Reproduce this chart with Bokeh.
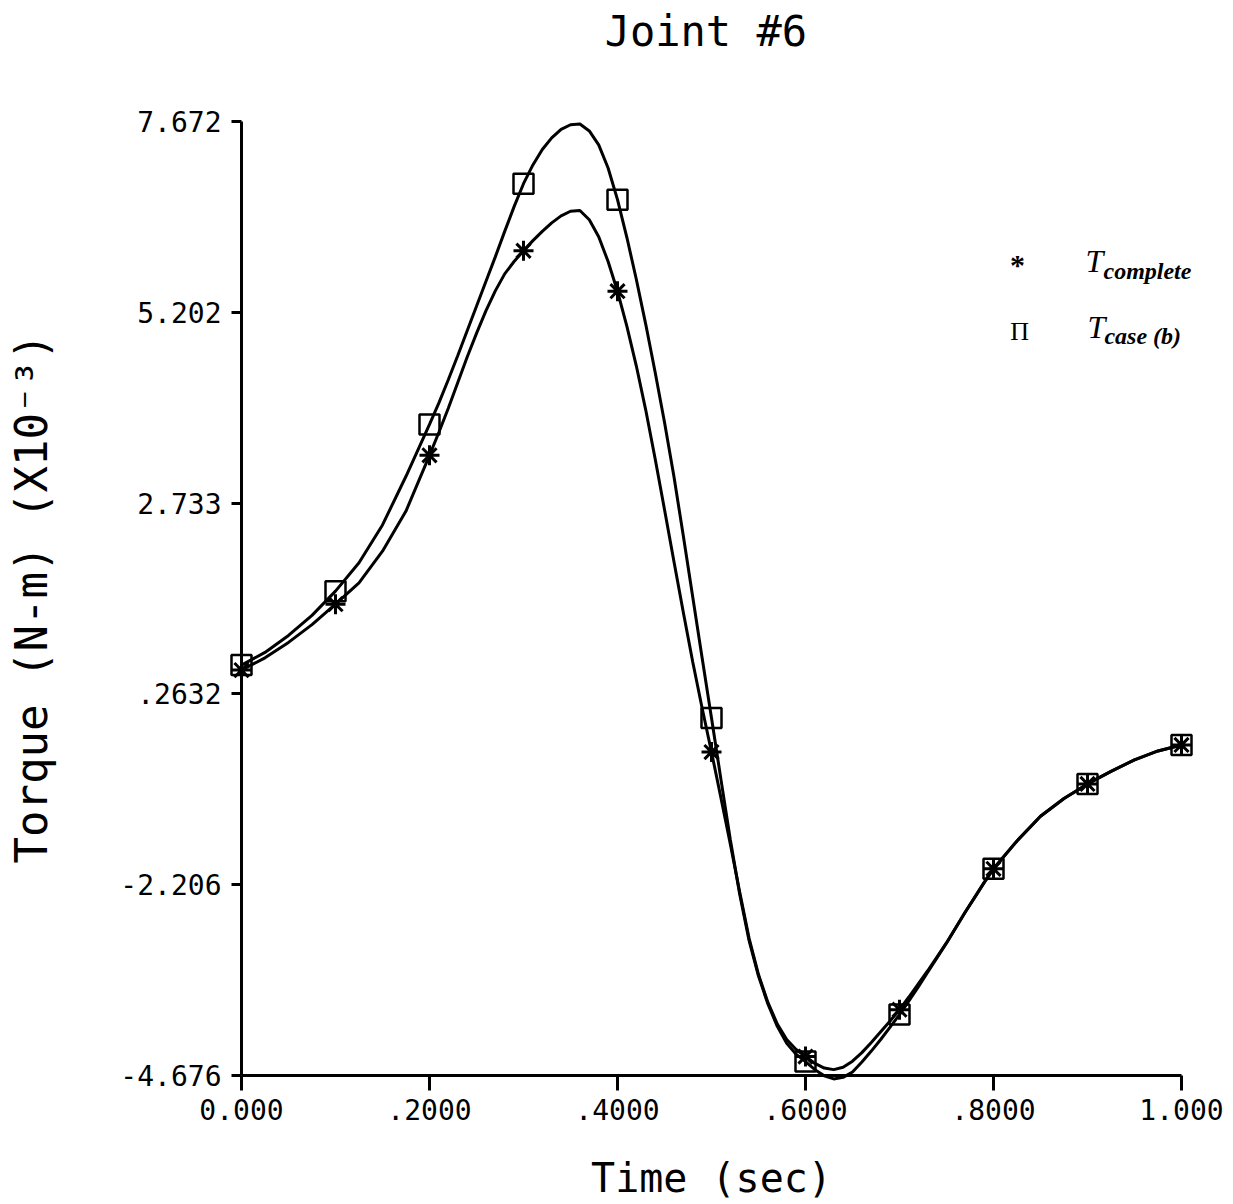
from bokeh.plotting import figure
from bokeh.models import FixedTicker, Range1d
from bokeh.core.properties import value
from bokeh.embed import file_html
from bokeh.resources import INLINE

# ---- data ----
t_curve = [0.0, 0.025, 0.05, 0.075, 0.1, 0.125, 0.15, 0.175,
           0.20, 0.21, 0.22, 0.23, 0.24, 0.25, 0.26, 0.27, 0.28, 0.29,
           0.30, 0.31, 0.32, 0.33, 0.34, 0.35, 0.36, 0.37, 0.38, 0.39,
           0.40, 0.41, 0.42, 0.43, 0.44, 0.45, 0.46, 0.47, 0.48, 0.49,
           0.50, 0.51, 0.52, 0.53, 0.54, 0.55, 0.56, 0.57, 0.58, 0.59,
           0.60, 0.61, 0.62, 0.63, 0.64, 0.65, 0.66, 0.67, 0.68, 0.69,
           0.70, 0.71, 0.72, 0.73, 0.74, 0.75, 0.76, 0.77, 0.78, 0.79,
           0.80, 0.825, 0.85, 0.875, 0.9, 0.925, 0.95, 0.975, 1.0]

torque_case_b = [0.636, 0.80, 1.02, 1.28, 1.593, 1.96, 2.45, 3.08,
                 3.751, 4.03, 4.33, 4.64, 4.96, 5.28, 5.60, 5.92, 6.25, 6.57,
                 6.867, 7.11, 7.31, 7.46, 7.57, 7.63, 7.64, 7.55, 7.37, 7.07,
                 6.66, 6.17, 5.63, 5.05, 4.43, 3.78, 3.08, 2.31, 1.52, 0.73,
                 -0.049, -0.84, -1.62, -2.33, -2.93, -3.39, -3.75, -4.04, -4.26, -4.40,
                 -4.496, -4.60, -4.68, -4.72, -4.70, -4.63, -4.50, -4.36, -4.21, -4.05,
                 -3.888, -3.71, -3.53, -3.34, -3.15, -2.96, -2.76, -2.56, -2.37, -2.18,
                 -2.001, -1.64, -1.32, -1.09, -0.902, -0.74, -0.59, -0.475, -0.398]

torque_complete = [0.571, 0.73, 0.93, 1.16, 1.425, 1.70, 2.11, 2.63,
                   3.351, 3.65, 3.96, 4.29, 4.62, 4.93, 5.22, 5.48, 5.70, 5.86,
                   5.999, 6.13, 6.25, 6.36, 6.45, 6.51, 6.52, 6.40, 6.18, 5.86,
                   5.475, 5.02, 4.51, 3.94, 3.31, 2.65, 1.98, 1.32, 0.68, 0.08,
                   -0.489, -1.08, -1.68, -2.30, -2.90, -3.37, -3.73, -4.01, -4.21, -4.34,
                   -4.431, -4.52, -4.58, -4.60, -4.57, -4.49, -4.38, -4.25, -4.11, -3.97,
                   -3.824, -3.66, -3.49, -3.32, -3.14, -2.96, -2.76, -2.56, -2.37, -2.18,
                   -2.001, -1.64, -1.32, -1.09, -0.902, -0.74, -0.59, -0.475, -0.398]

t_marks = [0.0, 0.1, 0.2, 0.3, 0.4, 0.5, 0.6, 0.7, 0.8, 0.9, 1.0]
complete_marks = [0.571, 1.425, 3.351, 5.999, 5.475, -0.489, -4.431, -3.824, -2.001, -0.902, -0.398]
case_b_marks = [0.636, 1.593, 3.751, 6.867, 6.660, -0.049, -4.496, -3.888, -2.001, -0.902, -0.398]

x_ticks = [0.0, 0.2, 0.4, 0.6, 0.8, 1.0]
x_tick_labels = ["0.000", ".2000", ".4000", ".6000", ".8000", "1.000"]
y_ticks = [-4.676, -2.206, 0.2632, 2.733, 5.202, 7.672]
y_tick_labels = ["-4.676", "-2.206", ".2632", "2.733", "5.202", "7.672"]

title_text = "Joint #6"
MONO = "DejaVu Sans Mono"
SERIF = "Liberation Serif"

W, H = 1233, 1204
AX_L, AX_R, AX_T, AX_B = 241, 1181, 121, 1075

p = figure(width=W, height=H, output_backend="svg", toolbar_location=None,
           x_range=Range1d(x_ticks[0], x_ticks[-1]),
           y_range=Range1d(y_ticks[0], y_ticks[-1]),
           min_border_left=AX_L, min_border_right=W - AX_R,
           min_border_top=AX_T, min_border_bottom=H - AX_B)
p.background_fill_color = "white"
p.border_fill_color = "white"
p.outline_line_color = None
p.grid.visible = False

for ax in (p.xaxis[0], p.yaxis[0]):
    ax.axis_line_width = 3
    ax.axis_line_color = "black"
    ax.major_tick_line_width = 3
    ax.major_tick_line_color = "black"
    ax.major_tick_in = 0
    ax.minor_tick_line_color = None
    ax.major_label_text_font = MONO
    ax.major_label_text_font_size = "28px"
    ax.major_label_text_color = "black"
    ax.axis_label_text_font = MONO
    ax.axis_label_text_font_style = "normal"
    ax.axis_label_text_color = "black"

p.xaxis.ticker = FixedTicker(ticks=x_ticks)
p.xaxis.major_label_overrides = dict(zip(x_ticks, x_tick_labels))
p.xaxis.major_tick_out = 15
p.xaxis.major_label_standoff = 8
p.xaxis.axis_label = "Time (sec)"
p.xaxis.axis_label_text_font_size = "40px"
p.xaxis.axis_label_standoff = 32

p.yaxis.ticker = FixedTicker(ticks=y_ticks)
p.yaxis.major_label_overrides = dict(zip(y_ticks, y_tick_labels))
p.yaxis.major_tick_out = 10
p.yaxis.major_label_standoff = 10
p.yaxis.axis_label = "Torque (N-m) (X10\u207b\u00b3)"
p.yaxis.axis_label_text_font_size = "44px"
p.yaxis.axis_label_standoff = 60

# curves (overlay level so the trough may dip just below the axis line, as in the original)
p.line(t_curve, torque_case_b, line_width=3, line_color="black", level="overlay")
p.line(t_curve, torque_complete, line_width=3, line_color="black", level="overlay")

# markers
p.scatter(t_marks, case_b_marks, marker="square", size=20, fill_alpha=0,
          line_color="black", line_width=2.5, level="overlay")
p.scatter(t_marks, complete_marks, marker="asterisk", size=20,
          line_color="black", line_width=3, level="overlay")


def txt(x, y, s, font, size, style="normal", align="left", baseline="alphabetic"):
    p.text(x=[x], y=[y], text=[s], text_font=value(font), text_font_size=value(size),
           text_font_style=style, text_align=align, text_baseline=baseline,
           text_color="black", level="overlay")


# title above the axes
txt(0.494, 8.84, title_text, MONO, "42px", "normal", "center", "middle")

# legend (hand-placed text, as in the original)
txt(0.8255, 5.818, "*", SERIF, "30px", "bold", "center")
txt(0.8979, 5.86, "T", SERIF, "32px", "italic")
txt(0.917, 5.742, "complete", SERIF, "24px", "bold italic")
txt(0.8277, 4.96, "\u03a0", SERIF, "26px", "normal", "center")
txt(0.900, 5.006, "T", SERIF, "32px", "italic")
txt(0.918, 4.90, "case (b)", SERIF, "24px", "bold italic")

open("out.html", "w").write(file_html(p, INLINE))
